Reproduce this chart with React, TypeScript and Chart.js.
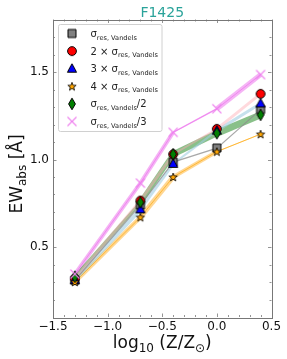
import React, { useEffect, useRef } from "react";
import { Chart, registerables } from "chart.js";

Chart.register(...registerables);

// ---- data ----
const metallicity = [-1.3, -0.7, -0.4, 0.0, 0.4];
const sigma1 = [0.31, 0.74, 0.985, 1.065, 1.285];
const sigma2 = [0.32, 0.765, 1.03, 1.175, 1.375];
const sigma3 = [0.31, 0.715, 0.975, 1.165, 1.32];
const sigma4 = [0.3, 0.67, 0.9, 1.045, 1.145];
const sigmaHalf = [0.33, 0.755, 1.03, 1.15, 1.255];
const sigmaThird = [0.345, 0.865, 1.155, 1.29, 1.485];

const xTickValues = [-1.5, -1.0, -0.5, 0.0, 0.5];
const yTickValues = [0.5, 1.0, 1.5];

const titleText = "F1425";
const SUB = "res, Vandels";
const legendLabels = [
  [{ t: "σ" }, { t: SUB, sub: true }],
  [{ t: "2 × σ" }, { t: SUB, sub: true }],
  [{ t: "3 × σ" }, { t: SUB, sub: true }],
  [{ t: "4 × σ" }, { t: SUB, sub: true }],
  [{ t: "σ" }, { t: SUB, sub: true }, { t: "/2" }],
  [{ t: "σ" }, { t: SUB, sub: true }, { t: "/3" }],
];
const yLabelParts = [{ t: "EW" }, { t: "abs", sub: true }, { t: " [Å]" }];
const xLabelParts = [{ t: "log" }, { t: "10", sub: true }, { t: " (Z/Z" }, { t: "⊙", sub: true }, { t: ")" }];

// ---- styles ----
const FONT = "'DejaVu Sans', sans-serif";
const seriesStyle = [
  { marker: "square", band: "rgba(140,140,140,0.75)", widths: [1.2, 1.2, 1.2, 1.2] },
  { marker: "circle", band: "rgba(255,170,180,0.45)", widths: [3, 3, 2, 3] },
  { marker: "triangle", band: "rgba(160,205,225,0.6)", widths: [4, 3, 2, 3] },
  { marker: "star", band: "rgba(255,175,40,0.5)", widths: [4, 5, 4, 1] },
  { marker: "diamond", band: "rgba(40,140,40,0.55)", widths: [3, 5, 6, 7] },
  { marker: "x", band: "rgba(238,130,238,0.6)", widths: [4, 4, 1.5, 5] },
];
const seriesValues = [sigma1, sigma2, sigma3, sigma4, sigmaHalf, sigmaThird];

function makeMarker(kind: string): HTMLCanvasElement {
  const c = document.createElement("canvas");
  c.width = 20;
  c.height = 20;
  const g = c.getContext("2d")!;
  g.translate(10, 10);
  g.lineWidth = 1;
  g.strokeStyle = "#000";
  g.beginPath();
  if (kind === "square") {
    g.fillStyle = "#808080";
    g.rect(-4, -4, 8, 8);
  } else if (kind === "circle") {
    g.fillStyle = "#ff0000";
    g.arc(0, 0, 4.4, 0, Math.PI * 2);
  } else if (kind === "triangle") {
    g.fillStyle = "#0000ff";
    g.moveTo(0, -5);
    g.lineTo(4.6, 3.5);
    g.lineTo(-4.6, 3.5);
    g.closePath();
  } else if (kind === "star") {
    g.fillStyle = "#ffa500";
    g.lineWidth = 0.8;
    for (let i = 0; i < 10; i++) {
      const r = i % 2 === 0 ? 4.4 : 1.8;
      const a = -Math.PI / 2 + (i * Math.PI) / 5;
      const px = r * Math.cos(a);
      const py = r * Math.sin(a) + 0.4;
      if (i === 0) g.moveTo(px, py);
      else g.lineTo(px, py);
    }
    g.closePath();
  } else if (kind === "diamond") {
    g.fillStyle = "#008000";
    g.moveTo(0, -5.8);
    g.lineTo(3.4, 0);
    g.lineTo(0, 5.8);
    g.lineTo(-3.4, 0);
    g.closePath();
  } else if (kind === "x") {
    g.strokeStyle = "#ee82ee";
    g.lineWidth = 1.1;
    g.moveTo(-4.5, -4.5);
    g.lineTo(4.5, 4.5);
    g.moveTo(4.5, -4.5);
    g.lineTo(-4.5, 4.5);
    g.stroke();
    return c;
  }
  g.fill();
  g.stroke();
  return c;
}

type Part = { t: string; sub?: boolean };

function richWidth(ctx: CanvasRenderingContext2D, parts: Part[], size: number, subSize: number) {
  let w = 0;
  for (const p of parts) {
    ctx.font = `${p.sub ? subSize : size}px ${FONT}`;
    w += ctx.measureText(p.t).width;
  }
  return w;
}

function drawRich(ctx: CanvasRenderingContext2D, parts: Part[], x: number, y: number, size: number, subSize: number, subDrop: number) {
  let cx = x;
  ctx.textBaseline = "alphabetic";
  ctx.textAlign = "left";
  for (const p of parts) {
    ctx.font = `${p.sub ? subSize : size}px ${FONT}`;
    ctx.fillText(p.t, cx, p.sub ? y + subDrop : y);
    cx += ctx.measureText(p.t).width;
  }
}

function fmt(v: number) {
  return (v < 0 ? "\u2212" : "") + Math.abs(v).toFixed(1);
}

export default function App() {
  const ref = useRef<HTMLCanvasElement | null>(null);

  useEffect(() => {
    if (!ref.current) return;
    const markers = seriesStyle.map((s) => makeMarker(s.marker));

    const lineSets = seriesValues.map((vals, i) => ({
      data: metallicity.map((x, j) => ({ x, y: vals[j] })),
      borderColor: seriesStyle[i].band,
      borderWidth: seriesStyle[i].widths[0],
      segment: { borderWidth: (c: any) => seriesStyle[i].widths[c.p0DataIndex] },
      pointRadius: 0,
      pointHoverRadius: 0,
      fill: false,
      tension: 0,
      order: 20 + i,
    }));
    const thinPink = {
      data: metallicity.map((x, j) => ({ x, y: sigmaThird[j] })),
      borderColor: "rgba(238,130,238,0.9)",
      borderWidth: 1,
      pointRadius: 0,
      pointHoverRadius: 0,
      fill: false,
      tension: 0,
      order: 15,
    };
    const thinOrange = {
      data: metallicity.map((x, j) => ({ x, y: sigma4[j] })),
      borderColor: "rgba(255,165,0,0.8)",
      borderWidth: 0.8,
      pointRadius: 0,
      pointHoverRadius: 0,
      fill: false,
      tension: 0,
      order: 16,
    };
    const markerOrder = [6, 5, 4, 3, 2, 1];
    const markerSets = seriesValues.map((vals, i) => ({
      data: metallicity.map((x, j) => ({ x, y: vals[j] })),
      showLine: false,
      pointStyle: markers[i],
      pointRadius: 5,
      pointHoverRadius: 5,
      order: markerOrder[i],
    }));

    const decor = {
      id: "decor",
      afterDatasetsDraw(chart: any) {
        const ctx: CanvasRenderingContext2D = chart.ctx;
        const { left, right, top, bottom } = chart.chartArea;
        const xs = chart.scales.x;
        const ys = chart.scales.y;
        ctx.save();
        // ticks
        ctx.strokeStyle = "#7a7a7a";
        ctx.lineWidth = 0.8;
        ctx.beginPath();
        for (let k = -15; k <= 5; k++) {
          const v = k / 10;
          const px = Math.round(xs.getPixelForValue(v)) + 0.5;
          const len = k % 5 === 0 ? 3.5 : 2;
          ctx.moveTo(px, bottom);
          ctx.lineTo(px, bottom - len);
          ctx.moveTo(px, top);
          ctx.lineTo(px, top + len);
        }
        for (let k = 2; k <= 17; k++) {
          const v = k / 10;
          const py = Math.round(ys.getPixelForValue(v)) + 0.5;
          const len = k % 5 === 0 ? 3.5 : 2;
          ctx.moveTo(left, py);
          ctx.lineTo(left + len, py);
          ctx.moveTo(right, py);
          ctx.lineTo(right - len, py);
        }
        ctx.stroke();
        // frame
        ctx.strokeStyle = "#777777";
        ctx.lineWidth = 1;
        ctx.strokeRect(Math.round(left) + 0.5, Math.round(top) + 0.5, Math.round(right - left), Math.round(bottom - top));

        // legend
        const lx = 58.5, ly = 24.5, lw = 103.5, lh = 107;
        ctx.beginPath();
        const r = 2;
        ctx.moveTo(lx + r, ly);
        ctx.arcTo(lx + lw, ly, lx + lw, ly + lh, r);
        ctx.arcTo(lx + lw, ly + lh, lx, ly + lh, r);
        ctx.arcTo(lx, ly + lh, lx, ly, r);
        ctx.arcTo(lx, ly, lx + lw, ly, r);
        ctx.closePath();
        ctx.fillStyle = "rgba(255,255,255,0.85)";
        ctx.fill();
        ctx.strokeStyle = "#d0d0d0";
        ctx.lineWidth = 1;
        ctx.stroke();
        ctx.fillStyle = "#222";
        legendLabels.forEach((parts, i) => {
          const cy = 33.5 + i * 17.6;
          ctx.drawImage(markers[i], 72 - 10, cy - 10);
          ctx.fillStyle = "#222";
          drawRich(ctx, parts as Part[], 90.5, cy + 3.5, 10, 6.6, 2.6);
        });

        // title
        ctx.fillStyle = "#2aa39a";
        ctx.font = `14px ${FONT}`;
        ctx.textAlign = "center";
        ctx.textBaseline = "alphabetic";
        ctx.fillText(titleText, (left + right) / 2, 17);

        // x label
        ctx.fillStyle = "#111";
        const xw = richWidth(ctx, xLabelParts, 17, 12);
        drawRich(ctx, xLabelParts, (left + right) / 2 - xw / 2, 348, 17, 12, 3.5);

        // y label
        ctx.save();
        ctx.translate(22, 174);
        ctx.rotate(-Math.PI / 2);
        const yw = richWidth(ctx, yLabelParts, 17, 12);
        drawRich(ctx, yLabelParts, -yw / 2, 0, 17, 12, 3.5);
        ctx.restore();

        ctx.restore();
      },
    };

    const chart = new Chart(ref.current, {
      type: "line",
      data: { datasets: [...markerSets, thinPink, thinOrange, ...lineSets] as any },
      options: {
        animation: false,
        responsive: false,
        devicePixelRatio: 1,
        events: [],
        layout: { autoPadding: false, padding: { left: 0, right: 15.5, top: 19.5, bottom: 0 } },
        plugins: { legend: { display: false }, tooltip: { enabled: false }, title: { display: false } },
        scales: {
          x: {
            type: "linear",
            min: -1.5,
            max: 0.5,
            grid: { display: false, drawTicks: false },
            border: { display: false },
            ticks: {
              padding: 3,
              color: "#111",
              font: { family: FONT, size: 12 },
              maxRotation: 0,
              autoSkip: false,
              callback: (v: any) => fmt(Number(v)),
            },
            afterBuildTicks: (s: any) => {
              s.ticks = xTickValues.map((v) => ({ value: v }));
            },
            afterFit: (s: any) => {
              s.height = 42;
            },
          },
          y: {
            type: "linear",
            min: 0.1,
            max: 1.8,
            grid: { display: false, drawTicks: false },
            border: { display: false },
            ticks: {
              padding: 4,
              color: "#111",
              font: { family: FONT, size: 12 },
              autoSkip: false,
              callback: (v: any) => fmt(Number(v)),
            },
            afterBuildTicks: (s: any) => {
              s.ticks = yTickValues.map((v) => ({ value: v }));
            },
            afterFit: (s: any) => {
              s.width = 53;
            },
          },
        },
      },
      plugins: [decor],
    } as any);
    return () => chart.destroy();
  }, []);

  return (
    <div style={{ position: "fixed", left: 0, top: 0, width: 287, height: 359, background: "#fff" }}>
      <canvas ref={ref} width={287} height={359} style={{ display: "block" }} />
    </div>
  );
}
